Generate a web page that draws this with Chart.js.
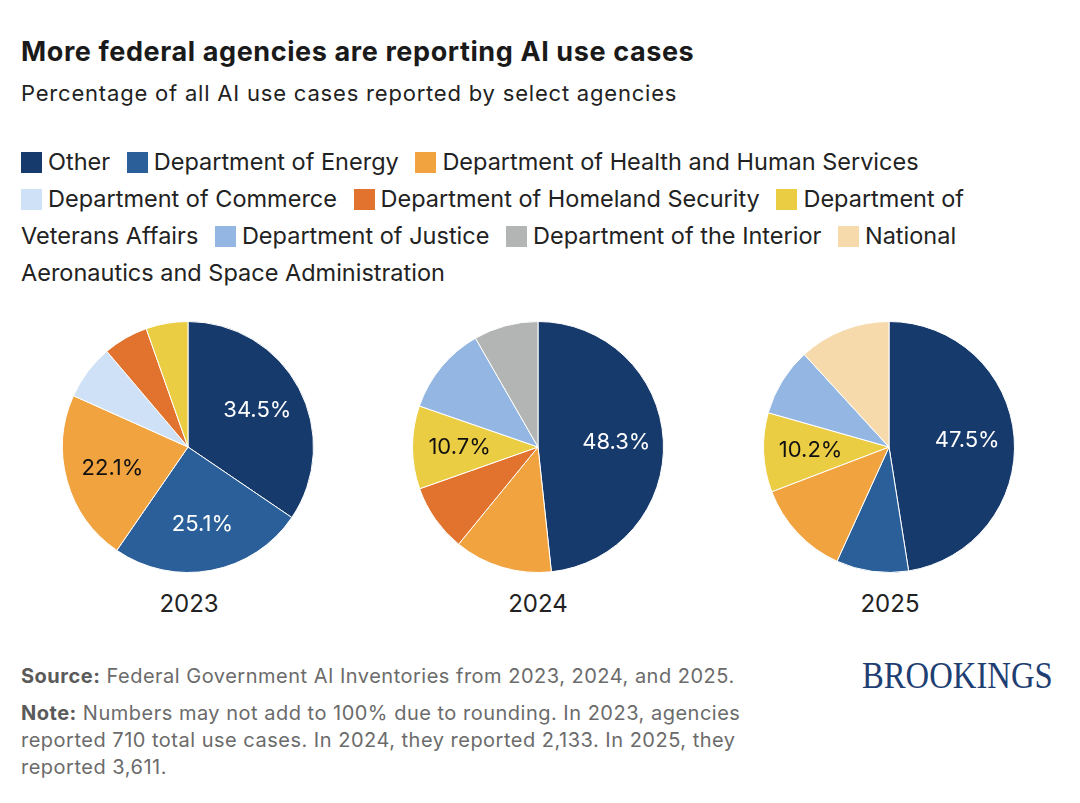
<!doctype html>
<html lang="en">
<head>
<meta charset="utf-8">
<title>More federal agencies are reporting AI use cases</title>
<script src="https://cdn.jsdelivr.net/npm/chart.js"></script>
<style>
  body { margin: 0; background: #fff; font-family: Inter, "Noto Sans", sans-serif; color: #222; }
  #wrap { position: relative; width: 1080px; height: 803px; overflow: hidden; }
  .title { position: absolute; left: 21px; top: 36px; font-size: 27px; line-height: 32px; font-weight: 700; color: #1a1a1a; letter-spacing: 0.6px; white-space: nowrap; }
  .subtitle { position: absolute; left: 21px; top: 79px; font-size: 22px; line-height: 28px; color: #222; letter-spacing: 0.8px; white-space: nowrap; }
  #legend { position: absolute; left: 21px; top: 143px; width: 1030px; font-size: 23.5px; line-height: 37px; color: #222; }
  .sw { display: inline-block; width: 21px; height: 21px; vertical-align: -3px; margin-right: 6px; }
  .item { margin-right: 10px; }
  .nb { white-space: nowrap; }
  canvas { position: absolute; top: 321px; }
  .year { position: absolute; top: 590px; width: 200px; text-align: center; font-size: 24px; line-height: 28px; color: #222; }
  .foot { position: absolute; left: 21px; font-size: 20px; line-height: 27px; color: #6b6b6b; letter-spacing: 0.5px; white-space: nowrap; }
  .foot b { color: #5a5a5a; }
  .logo { position: absolute; left: 862px; top: 652px; font-family: "Liberation Serif", "DejaVu Serif", serif; font-size: 38px; line-height: 46px; color: #1f3f73; transform: scaleX(0.86); transform-origin: left center; }
</style>
</head>
<body>
<div id="wrap">
  <div class="title">More federal agencies are reporting AI use cases</div>
  <div class="subtitle">Percentage of all AI use cases reported by select agencies</div>
  <div id="legend"></div>

  <canvas id="pie2023" width="252" height="252" style="left:62px"></canvas>
  <canvas id="pie2024" width="252" height="252" style="left:412px"></canvas>
  <canvas id="pie2025" width="252" height="252" style="left:763px"></canvas>

  <div class="year" style="left:89px">2023</div>
  <div class="year" style="left:438px">2024</div>
  <div class="year" style="left:790px">2025</div>

  <div class="foot" style="top:663px"><b>Source:</b> Federal Government AI Inventories from 2023, 2024, and 2025.</div>
  <div class="foot" style="top:700px"><b>Note:</b> Numbers may not add to 100% due to rounding. In 2023, agencies<br>reported 710 total use cases. In 2024, they reported 2,133. In 2025, they<br>reported 3,611.</div>
  <div class="logo">BROOKINGS</div>
</div>

<script>
  const agencies = [
    'Other',
    'Department of Energy',
    'Department of Health and Human Services',
    'Department of Commerce',
    'Department of Homeland Security',
    'Department of Veterans Affairs',
    'Department of Justice',
    'Department of the Interior',
    'National Aeronautics and Space Administration'
  ]
  const colors = ['#173a6c', '#2b5f99', '#f0a33f', '#cfe1f6', '#e1732e', '#ebcd44', '#93b6e3', '#b3b4b4', '#f6daac']
  const labelColors = ['#fff', '#fff', '#111', '#111', '#111', '#111', '#111', '#111', '#111']

  // percent of use cases per agency, same order as agencies
  const share2023 = [34.5, 25.1, 22.1, 7.1, 5.8, 5.4, 0, 0, 0]
  const share2024 = [48.3, 0, 12.6, 0, 8.7, 10.7, 11.4, 8.3, 0]
  const share2025 = [47.5, 9.3, 12.4, 0, 0, 10.2, 8.8, 0, 11.8]

  // which slices carry a value label
  const labeled2023 = [0, 1, 2]
  const labeled2024 = [0, 5]
  const labeled2025 = [0, 5]

  // legend is plain html so it wraps like running text
  document.getElementById('legend').innerHTML = agencies
    .map((name, i) => {
      const words = name.split(' ')
      const first = words.shift()
      const rest = words.length ? ' ' + words.join(' ') : ''
      return `<span class="item"><span class="nb"><span class="sw" style="background:${colors[i]}"></span>${first}</span>${rest}</span>`
    })
    .join(' ')

  const sliceLabels = {
    id: 'sliceLabels',
    afterDatasetsDraw(chart, args, opts) {
      const ctx = chart.ctx
      const values = chart.data.datasets[0].data
      const arcs = chart.getDatasetMeta(0).data
      ctx.save()
      ctx.font = '22px Inter, "Noto Sans", sans-serif'
      ctx.textAlign = 'center'
      ctx.textBaseline = 'middle'
      opts.shown.forEach((i) => {
        const p = arcs[i].getProps(['x', 'y', 'startAngle', 'endAngle', 'outerRadius'], true)
        const mid = (p.startAngle + p.endAngle) / 2
        const r = p.outerRadius * 0.625
        ctx.fillStyle = labelColors[i]
        ctx.fillText(values[i].toFixed(1) + '%', p.x + Math.cos(mid) * r, p.y + Math.sin(mid) * r)
      })
      ctx.restore()
    }
  }

  function drawPie(id, values, shown) {
    new Chart(document.getElementById(id), {
      type: 'pie',
      data: {
        labels: agencies,
        datasets: [{
          data: values,
          backgroundColor: colors,
          borderColor: '#fff',
          borderWidth: 1
        }]
      },
      options: {
        responsive: false,
        animation: false,
        layout: { padding: 0 },
        plugins: {
          legend: { display: false },
          tooltip: { enabled: false },
          sliceLabels: { shown: shown }
        }
      },
      plugins: [sliceLabels]
    })
  }

  drawPie('pie2023', share2023, labeled2023)
  drawPie('pie2024', share2024, labeled2024)
  drawPie('pie2025', share2025, labeled2025)
</script>
</body>
</html>
